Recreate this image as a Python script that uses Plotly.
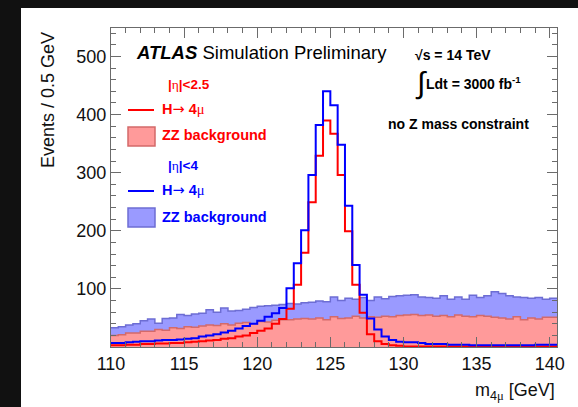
import numpy as np
import plotly.graph_objects as go

# ---- histogram contents: 61 bins of 0.5 GeV starting at 110 GeV ----
bin_lo = 110.0
bin_width = 0.5

# ZZ background, |eta| < 2.5
zz_eta25 = [20, 21, 24, 24, 27, 27, 30, 29, 33, 32,
            35, 34, 36, 38, 37, 40, 38, 41, 42, 40,
            44, 43, 46, 47, 47, 48, 49, 48, 50, 47,
            52, 49, 50, 53, 50, 52, 51, 53, 52, 54,
            55, 56, 54, 55, 53, 54, 52, 55, 53, 52,
            54, 53, 51, 50, 48, 52, 47, 50, 48, 51, 51]

# ZZ background, |eta| < 4
zz_eta4 = [33, 35, 38, 40, 45, 48, 41, 49, 50, 56,
           54, 57, 58, 64, 60, 67, 62, 63, 65, 68,
           70, 71, 72, 73, 75, 74, 76, 77, 79, 78,
           86, 80, 84, 82, 85, 80, 86, 83, 87, 88,
           89, 90, 86, 85, 84, 88, 82, 86, 82, 89,
           85, 88, 95, 92, 88, 86, 85, 84, 85, 82, 84]

# H -> 4mu signal, |eta| < 2.5
h4mu_eta25 = [3, 3, 4, 4, 5, 5, 6, 6, 7, 7,
              8, 9, 10, 11, 12, 14, 15, 18, 20, 24,
              28, 32, 40, 48, 66, 107, 162, 249, 329, 390,
              367, 296, 199, 107, 59, 22, 10, 5, 3, 2,
              1, 1, 1, 1, 1, 1, 1, 1, 1, 1,
              1, 1, 1, 1, 1, 1, 1, 1, 1, 1, 1]

# H -> 4mu signal, |eta| < 4
h4mu_eta4 = [7, 7, 8, 9, 10, 10, 11, 12, 12, 13,
             14, 15, 18, 20, 22, 25, 28, 32, 36, 40,
             45, 52, 58, 67, 101, 144, 201, 296, 382, 440,
             416, 348, 243, 141, 90, 49, 30, 18, 12, 9,
             8, 8, 7, 5, 5, 5, 4, 4, 4, 3,
             3, 3, 3, 3, 3, 3, 3, 3, 4, 4, 4]

x_ticks = [110, 115, 120, 125, 130, 135, 140]
y_ticks = [100, 200, 300, 400, 500]

# ---- colours ----
RED = "#ff0000"
BLUE = "#0000ff"
RED_FILL = "#ff9a9a"
RED_EDGE = "#d46a6a"
BLUE_FILL = "#9a9aff"
BLUE_EDGE = "#6d6dd4"
FRAME = "#6b6b6b"
FONT = "Liberation Sans, Arial, Helvetica, sans-serif"
SERIF = "Liberation Serif, Times New Roman, serif"
SYM = "DejaVu Sans, sans-serif"

W_PX, H_PX = 578, 407
M_L, M_R, M_T, M_B = 111, 21, 28, 60
PW = W_PX - M_L - M_R
PH = H_PX - M_T - M_B


def fx(p):
    """pixel column -> paper x"""
    return (p - M_L) / PW


def fy(p):
    """pixel row -> paper y"""
    return (H_PX - M_B - p) / PH


def step_xy(values):
    edges = bin_lo + bin_width * np.arange(len(values) + 1)
    return edges, list(values) + [values[-1]]


fig = go.Figure()

# backgrounds: wide-eta drawn first, central one on top
for vals, fill, edge in [(zz_eta4, BLUE_FILL, BLUE_EDGE), (zz_eta25, RED_FILL, RED_EDGE)]:
    x, y = step_xy(vals)
    fig.add_trace(go.Scatter(x=x, y=y, mode="lines", line_shape="hv",
                             line=dict(color=edge, width=1.5),
                             fill="tozeroy", fillcolor=fill,
                             hoverinfo="skip", showlegend=False))

# signal histograms
for vals, col in [(h4mu_eta25, RED), (h4mu_eta4, BLUE)]:
    x, y = step_xy(vals)
    fig.add_trace(go.Scatter(x=x, y=y, mode="lines", line_shape="hv",
                             line=dict(color=col, width=2),
                             hoverinfo="skip", showlegend=False))

shapes = [
    # white canvas on the dark page
    dict(type="rect", xref="paper", yref="paper", layer="below",
         x0=fx(21), x1=fx(W_PX + 5), y0=fy(8), y1=fy(H_PX + 5),
         fillcolor="white", line=dict(width=0)),
    # legend samples
    dict(type="line", xref="paper", yref="paper",
         x0=fx(128), x1=fx(154), y0=fy(110), y1=fy(110),
         line=dict(color=RED, width=2)),
    dict(type="rect", xref="paper", yref="paper",
         x0=fx(128), x1=fx(155), y0=fy(127), y1=fy(146),
         fillcolor=RED_FILL, line=dict(color=RED_EDGE, width=1.5)),
    dict(type="line", xref="paper", yref="paper",
         x0=fx(128), x1=fx(154), y0=fy(191), y1=fy(191),
         line=dict(color=BLUE, width=2)),
    dict(type="rect", xref="paper", yref="paper",
         x0=fx(128), x1=fx(155), y0=fy(208), y1=fy(227),
         fillcolor=BLUE_FILL, line=dict(color=BLUE_EDGE, width=1.5)),
]


def label(text, px, py, size, color="#000", xanchor="left", yanchor="middle", **kw):
    return dict(text=text, x=fx(px), y=fy(py), xref="paper", yref="paper",
                showarrow=False, xanchor=xanchor, yanchor=yanchor,
                font=dict(family=FONT, size=size, color=color), **kw)


ETA = f"<span style='font-family:{SERIF};font-weight:normal'>η</span>"
MU = f"<span style='font-family:{SERIF};font-weight:normal'>μ</span>"
ARROW = f"<span style='font-family:{SYM};font-weight:normal'>→</span>"

annotations = [
    label("<b><i>ATLAS</i></b> Simulation Preliminary", 134, 53, 18.5),
    label(f"<b>|{ETA}|<2.5</b>", 166, 84, 13.5, RED),
    label(f"<b>H{ARROW} 4{MU}</b>", 160, 109, 14.5, RED),
    label("<b>ZZ background</b>", 160, 135, 14.5, RED),
    label(f"<b>|{ETA}|<4</b>", 166, 165, 13.5, BLUE),
    label(f"<b>H{ARROW} 4{MU}</b>", 160, 190, 14.5, BLUE),
    label("<b>ZZ background</b>", 160, 217, 14.5, BLUE),
    label("<b>√s = 14 TeV</b>", 413, 55, 14),
    label("∫", 413, 83, 30),
    label("<b>Ldt = 3000 fb<sup>-1</sup></b>", 424, 83, 14),
    label("<b>no Z mass constraint</b>", 386, 124, 14),
    # axis titles, right-aligned at the axis ends
    label("Events / 0.5 GeV", 48, 30, 18, "#111", xanchor="center", yanchor="top",
          textangle=-90),
    label(f"m<sub>4{MU}</sub> [GeV]", 557, 391, 18, "#111", xanchor="right"),
]

fig.update_layout(
    width=W_PX, height=H_PX,
    margin=dict(l=M_L, r=M_R, t=M_T, b=M_B, pad=0),
    paper_bgcolor="#111111",
    plot_bgcolor="white",
    shapes=shapes,
    annotations=annotations,
    showlegend=False,
    font=dict(family=FONT, color="#111"),
)

fig.update_xaxes(
    range=[110, 140.5], showgrid=False, zeroline=False,
    showline=True, linecolor=FRAME, linewidth=1, mirror="allticks",
    tickmode="array", tickvals=x_ticks,
    ticks="inside", ticklen=10, tickcolor=FRAME, tickwidth=1,
    tickfont=dict(size=18, color="#111", family=FONT),
    minor=dict(ticks="inside", ticklen=5, tickcolor=FRAME,
               tickmode="linear", tick0=110, dtick=1),
)
fig.update_yaxes(
    range=[0, 549], showgrid=False, zeroline=False,
    showline=True, linecolor=FRAME, linewidth=1, mirror="allticks",
    tickmode="array", tickvals=y_ticks,
    ticks="inside", ticklen=10, tickcolor=FRAME, tickwidth=1,
    tickfont=dict(size=18, color="#111", family=FONT),
    minor=dict(ticks="inside", ticklen=5, tickcolor=FRAME,
               tickmode="linear", tick0=0, dtick=20),
)

fig.write_html("out.html")
